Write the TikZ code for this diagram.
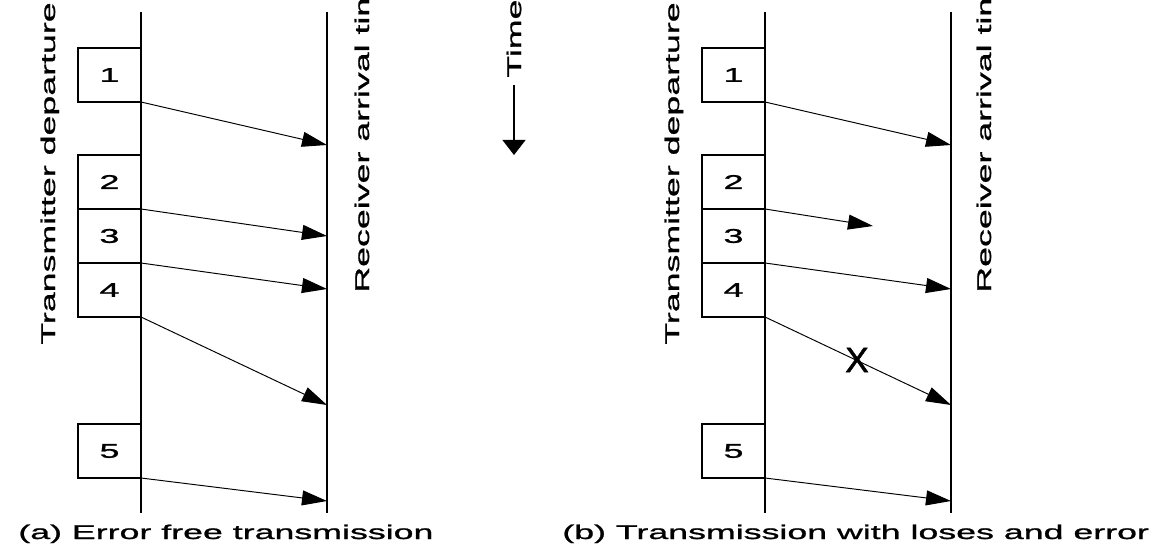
\documentclass[tikz,border=0pt]{standalone}
\usepackage{fontspec}
\setmainfont[FakeStretch=1.8,FakeBold=1.2]{Liberation Sans}
\newfontfamily\markfont[FakeBold=1.5]{Liberation Sans}
\usetikzlibrary{arrows.meta}
\begin{document}
\begin{tikzpicture}[scale=1,
	pkt/.style={draw, line width=0.6pt, outer sep=0pt, inner sep=0pt, minimum width=1.26cm, minimum height=1.08cm, font=\fontsize{11.3}{13}\selectfont},
	lbl/.style={rotate=90, anchor=base west, inner sep=0pt, font=\fontsize{11.3}{13}\selectfont},
	captext/.style={anchor=base west, inner sep=0pt, font=\fontsize{11.3}{13}\selectfont},
	msg/.style={line width=0.55pt, -{Triangle[length=0.5cm,width=0.3cm]}},
	tline/.style={line width=0.6pt}]
	\clip (0,0) rectangle (23.06,11.08);
	
	% (a) error free
	\coordinate (txa0) at (2.82,10.84); \coordinate (txa9) at (2.82,0.82);
	\coordinate (rxa0) at (6.54,10.84); \coordinate (rxa9) at (6.54,0.82);
	\draw[tline] (txa0) -- (txa9);
	\draw[tline] (rxa0) -- (rxa9);
	\node[pkt] (a1) at (2.19,9.58) {1};
	\node[pkt] (a2) at (2.19,7.44) {2};
	\node[pkt] (a3) at (2.19,6.36) {3};
	\node[pkt] (a4) at (2.19,5.28) {4};
	\node[pkt] (a5) at (2.19,2.06) {5};
	\coordinate (ra1) at (6.54,8.18);
	\coordinate (ra2) at (6.54,6.36);
	\coordinate (ra3) at (6.54,5.30);
	\coordinate (ra4) at (6.54,2.98);
	\coordinate (ra5) at (6.54,1.06);
	\foreach \i in {1,...,5}
		\draw[msg] (a\i.south east) -- (ra\i);
	\node[lbl] (txlabela) at (1.10,4.18) {Transmitter departure};
	\node[lbl] (rxlabela) at (7.38,5.22) {Receiver arrival time};
	\node[captext] (capa) at (0.36,0.30) {(a) Error free transmission};
	
	% time axis
	\node[lbl, anchor=west] (time) at (10.28,9.52) {Time};
	\coordinate (tend) at (10.28,7.98);
	\draw[line width=0.6pt, shorten <=0.14cm, -{Triangle[length=0.3cm,width=0.46cm]}] (time.west) -- (tend);
	
	% (b) loses and errors
	\coordinate (txb0) at (15.30,10.84); \coordinate (txb9) at (15.30,0.82);
	\coordinate (rxb0) at (19.02,10.84); \coordinate (rxb9) at (19.02,0.82);
	\draw[tline] (txb0) -- (txb9);
	\draw[tline] (rxb0) -- (rxb9);
	\node[pkt] (b1) at (14.67,9.58) {1};
	\node[pkt] (b2) at (14.67,7.44) {2};
	\node[pkt] (b3) at (14.67,6.36) {3};
	\node[pkt] (b4) at (14.67,5.28) {4};
	\node[pkt] (b5) at (14.67,2.06) {5};
	\coordinate (rb1) at (19.02,8.18);
	\coordinate (rb2) at (17.46,6.56);
	\coordinate (rb3) at (19.02,5.30);
	\coordinate (rb4) at (19.02,2.98);
	\coordinate (rb5) at (19.02,1.06);
	\foreach \i in {1,...,5}
		\draw[msg] (b\i.south east) -- (rb\i);
	\node[inner sep=0pt, font=\markfont\fontsize{20}{22}\selectfont] (lost) at (17.14,3.88) {X};
	\node[lbl] (txlabelb) at (13.58,4.18) {Transmitter departure};
	\node[lbl] (rxlabelb) at (19.82,5.22) {Receiver arrival time};
	\node[captext] (capb) at (11.24,0.30) {(b) Transmission with loses and error};
\end{tikzpicture}
\end{document}
